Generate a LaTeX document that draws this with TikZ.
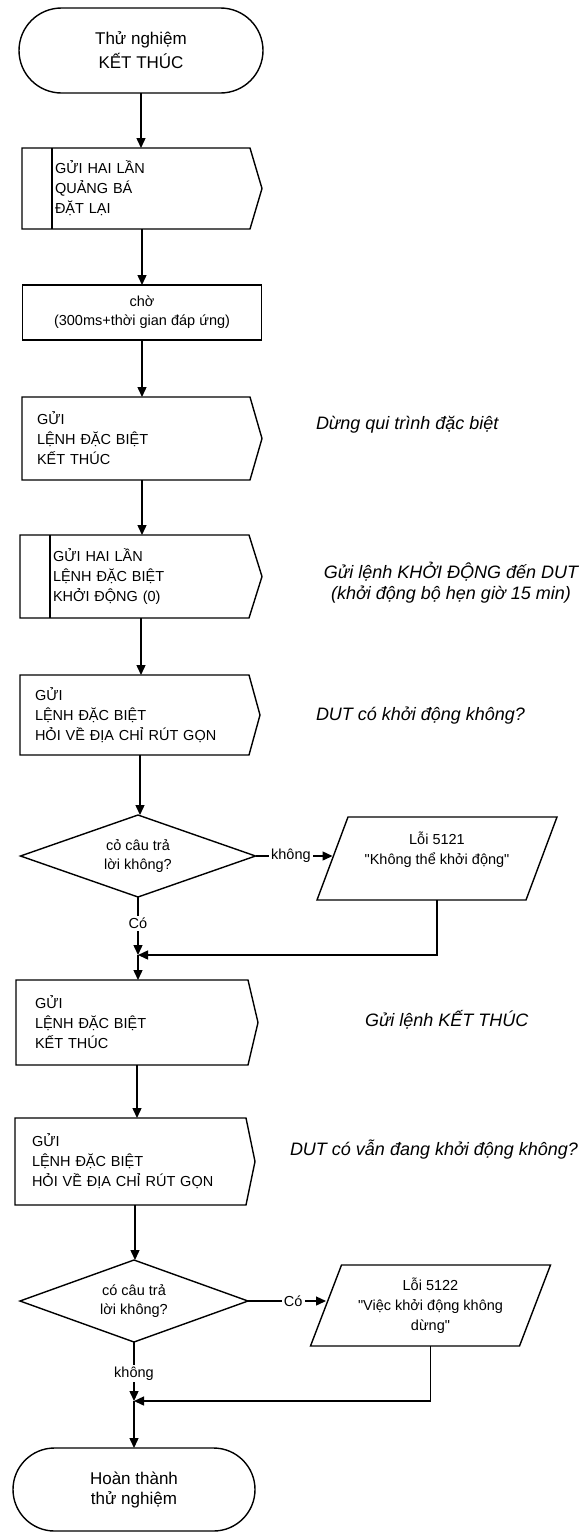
\documentclass[tikz,border=0pt]{standalone}
\usepackage{fontspec}
\setmainfont{Liberation Sans}
\usetikzlibrary{shapes.misc,shapes.geometric,arrows.meta}
% straight double quote, taken as a raw glyph so the TeX mapping leaves it alone
\newcommand{\sq}{\XeTeXglyph\XeTeXglyphindex "quotedbl"\relax}

\begin{document}
\begin{tikzpicture}[x=1pt,y=-1pt,
  line width=1.4pt,
  every node/.style={inner sep=0pt, outer sep=0pt},
  arr/.style={-{Triangle[length=10pt,width=9pt]}},
  terminal/.style={rounded rectangle, draw, align=center,
    font=\fontsize{17}{24}\selectfont},
  chev/.style={rectangle, align=left,
    font=\fontsize{14.5}{20}\selectfont},
  plain/.style={rectangle, draw, align=center,
    font=\fontsize{14.5}{19}\selectfont},
  decision/.style={diamond, draw, aspect=2.8, align=center,
    font=\fontsize{14.5}{19}\selectfont},
  errbox/.style={rectangle, align=center,
    font=\fontsize{14.5}{20}\selectfont},
  lbl/.style={fill=white, inner sep=2pt, font=\fontsize{14.5}{17}\selectfont},
  note/.style={font=\fontsize{18}{21}\selectfont\itshape, align=center}
]
\useasboundingbox (0,0) rectangle (585,1534);

% ---- main column ----
\node[terminal, minimum width=244pt, minimum height=85pt] (t1) at (141,50.5)
  {Thử nghiệm\\KẾT THÚC};

\node[chev, minimum width=240pt, minimum height=81pt, text width=174pt, inner xsep=33pt]
  (b1) at (142,188.5) {GỬI HAI LẦN\\QUẢNG BÁ\\ĐẶT LẠI};

\node[plain, minimum width=239pt, minimum height=55pt] (b2) at (142,312.5)
  {chờ\\(300ms+thời gian đáp ứng)};

\node[chev, minimum width=240pt, minimum height=83pt, text width=210pt, inner xsep=15pt]
  (b3) at (142,438.5) {GỬI\\LỆNH ĐẶC BIỆT\\KẾT THÚC};

\node[chev, minimum width=242pt, minimum height=83pt, text width=176pt, inner xsep=33pt]
  (b4) at (141,576.5) {GỬI HAI LẦN\\LỆNH ĐẶC BIỆT\\KHỞI ĐỘNG (0)};

\node[chev, minimum width=240pt, minimum height=80pt, text width=210pt, inner xsep=15pt]
  (b5) at (140,715) {GỬI\\LỆNH ĐẶC BIỆT\\HỎI VỀ ĐỊA CHỈ RÚT GỌN};

\node[decision, minimum width=235pt, minimum height=82pt] (d1) at (138,856)
  {cỏ câu trả\\lời không?};

\node[errbox, minimum width=209pt, minimum height=83pt] (e1) at (437,858.5)
  {Lỗi 5121\\\sq Không thể khởi động\sq\\\mbox{}};

\coordinate (j1) at (138,955);

\node[chev, minimum width=242pt, minimum height=85pt, text width=204pt, inner xsep=19pt]
  (b6) at (137,1022.5) {GỬI\\LỆNH ĐẶC BIỆT\\KẾT THÚC};

\node[chev, minimum width=240pt, minimum height=87pt, text width=206pt, inner xsep=17pt]
  (b7) at (135,1161.5) {GỬI\\LỆNH ĐẶC BIỆT\\HỎI VỀ ĐỊA CHỈ RÚT GỌN};

\node[decision, minimum width=228pt, minimum height=82pt] (d2) at (134,1301)
  {có câu trả\\lời không?};

\node[errbox, minimum width=209pt, minimum height=81pt] (e2) at (430.5,1305.5)
  {Lỗi 5122\\\sq Việc khởi động không\\dừng\sq};

\coordinate (j2) at (134,1401);

\node[terminal, minimum width=242pt, minimum height=83pt,
  font=\fontsize{17}{20}\selectfont] (t2) at (134,1489.5)
  {Hoàn thành\\thử nghiệm};

% ---- outlines of the send boxes (pointed right side) ----
\foreach \n/\p in {b1/12,b3/12,b4/13,b5/11,b6/10,b7/9}{
  \draw (\n.north west) -- ([xshift=-\p pt]\n.north east) -- (\n.east)
        -- ([xshift=-\p pt]\n.south east) -- (\n.south west) -- cycle;
}
% double-send boxes carry an extra bar on the left
\foreach \n in {b1,b4}{
  \draw ([xshift=30pt]\n.north west) -- ([xshift=30pt]\n.south west);
}
% ---- outlines of the error boxes (parallelograms) ----
\foreach \n in {e1,e2}{
  \draw ([xshift=15.5pt]\n.north west) -- ([xshift=15.5pt]\n.north east)
        -- ([xshift=-15.5pt]\n.south east) -- ([xshift=-15.5pt]\n.south west) -- cycle;
}

% ---- side notes ----
\node[note, anchor=west] (n1) at (316,425) {Dừng qui trình đặc biệt};
\node[note] (n2) at (451,582.5) {Gửi lệnh KHỞI ĐỘNG đến DUT\\(khởi động bộ hẹn giờ 15 min)};
\node[note, anchor=west] (n3) at (316,716) {DUT có khởi động không?};
\node[note, anchor=west] (n4) at (365,1020) {Gửi lệnh KẾT THÚC};
\node[note, anchor=west] (n5) at (290,1150) {DUT có vẫn đang khởi động không?};

% ---- connectors ----
\draw[arr] (t1.south) -- (t1.south |- b1.north);
\draw[arr] (b1.south) -- (b1.south |- b2.north);
\draw[arr] (b2.south) -- (b2.south |- b3.north);
\draw[arr] (b3.south) -- (b3.south |- b4.north);
\draw[arr] (b4.south) -- (b4.south |- b5.north);
\draw[arr] (b5.south) -- (b5.south |- d1.north);

\draw[arr] (d1.east) -- node[lbl, pos=0.46] {không} (d1.east -| e1.west);
\draw[arr] (d1.south) -- node[lbl, pos=0.45] {Có} (j1);
\draw[arr] (e1.south) |- (j1);
\draw[arr] (j1) -- (j1 |- b6.north);

\draw[arr] (b6.south) -- (b6.south |- b7.north);
\draw[arr] (b7.south) -- (b7.south |- d2.north);

\draw[arr] (d2.east) -- node[lbl, pos=0.58] {Có} (d2.east -| e2.west);
\draw[arr] (d2.south) -- node[lbl, pos=0.53] {không} (j2);
\draw[arr] (e2.south) |- (j2);
\draw[arr] (j2) -- (j2 |- t2.north);
\end{tikzpicture}
\end{document}
